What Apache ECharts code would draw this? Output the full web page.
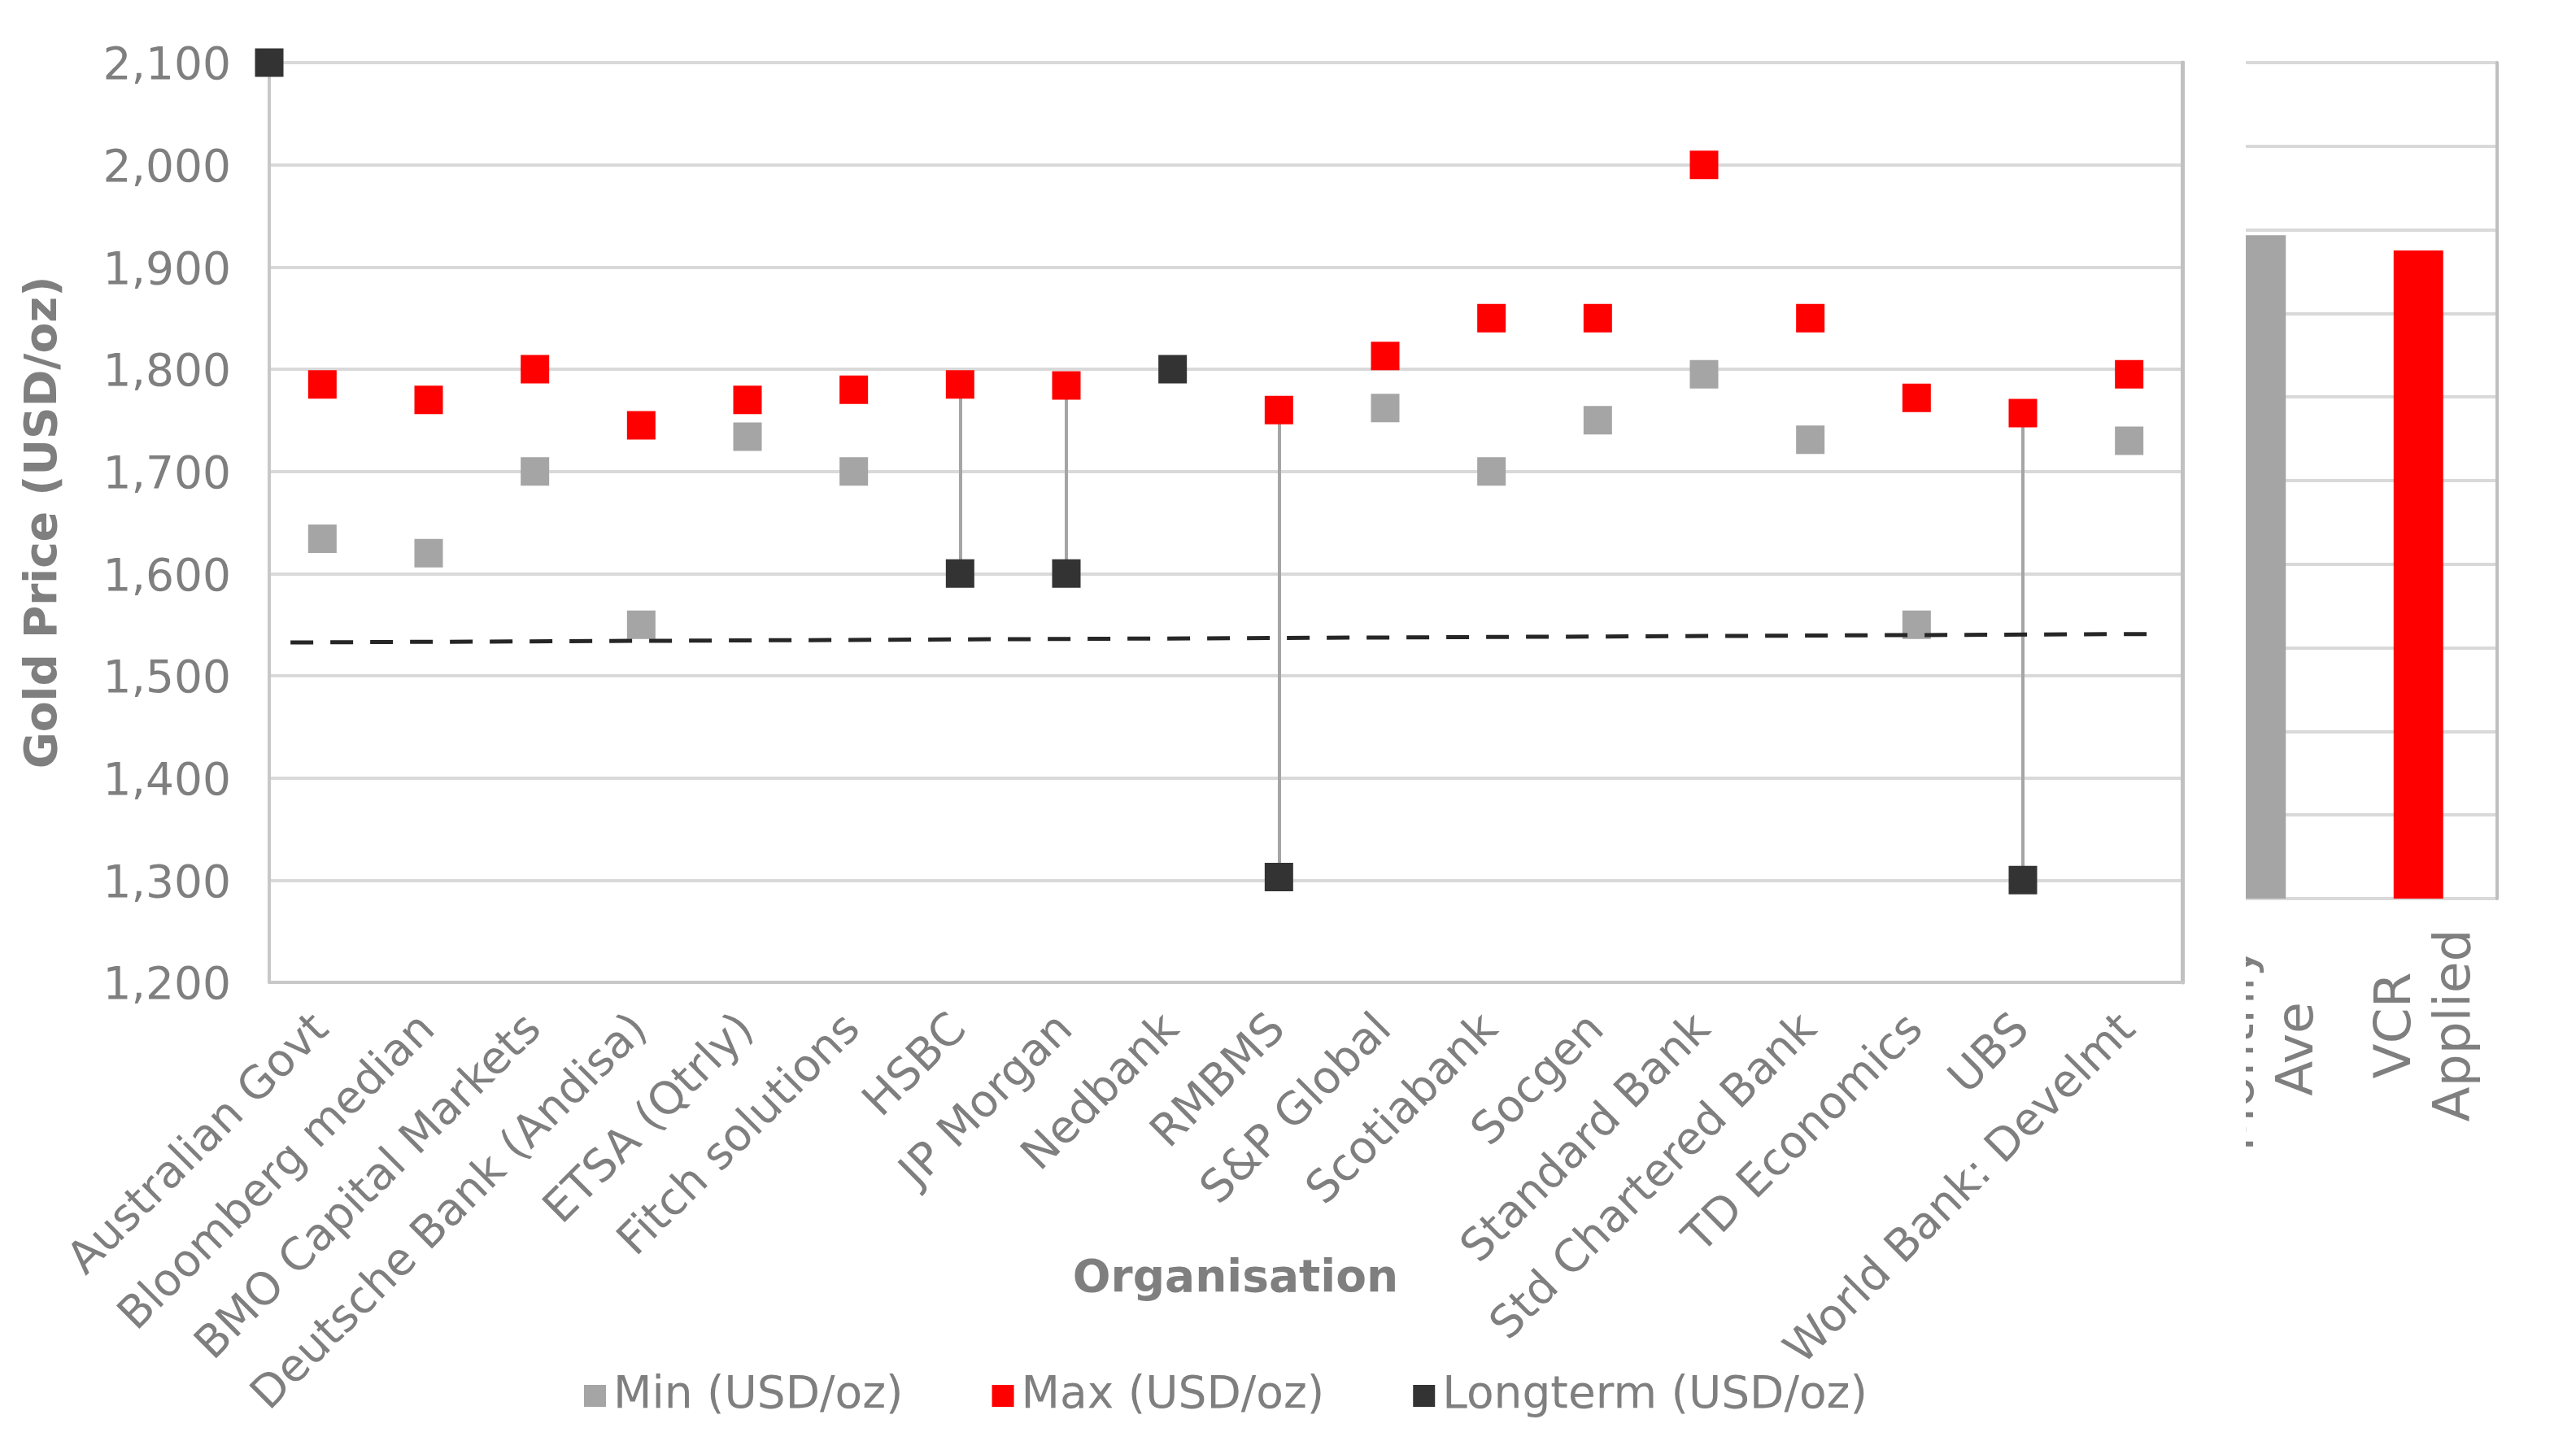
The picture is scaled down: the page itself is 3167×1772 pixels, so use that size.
<!DOCTYPE html>
<html><head><meta charset="utf-8">
<script src="https://cdn.jsdelivr.net/npm/echarts@6/dist/echarts.min.js"></script>
<style>html,body{margin:0;padding:0;background:#fff;overflow:hidden}#c{width:3167px;height:1772px}</style>
</head><body><div id="c"></div><script>
const categories = ['Australian Govt','Bloomberg median','BMO Capital Markets','Deutsche Bank (Andisa)','ETSA (Qtrly)','Fitch solutions','HSBC','JP Morgan','Nedbank','RMBMS','S&P Global','Scotiabank','Socgen','Standard Bank','Std Chartered Bank','TD Economics','UBS','World Bank: Develmt'];
const minValues = [1634,1620,1700,1550,1734,1700,null,null,null,null,1762,1700,1750,1795,1731,1550,null,1730];
const maxValues = [1785,1770,1800,1745,1770,1780,1785,1784,null,1760,1813,1850,1850,2000,1850,1772,1757,1795];
const longtermValues = [null,null,null,null,null,null,1600,1600,1800,1303,null,null,null,null,null,null,1300,null];
const longtermAxisPoint = [[-0.5, 2100]];
const trendPoints = [[-0.3, 1532.6], [17.24, 1540.9]];
const yTicks = [1200,1300,1400,1500,1600,1700,1800,1900,2000,2100];
const seriesNames = ['Min (USD/oz)','Max (USD/oz)','Longterm (USD/oz)'];
const insetCategories = ['Monthly\nAve','VCR\nApplied'];
const insetValues = [1984, 1938];
const insetTicks = [0,250,500,750,1000,1250,1500,1750,2000,2250,2500];

const FONT = 'DejaVu Sans';
const TXT = '#7f7f7f';
const GRID = '#d9d9d9';

const toCat = a => a.map(v => v == null ? '-' : v);
const longtermData = longtermAxisPoint.concat(
  longtermValues.map((v, i) => v == null ? null : [i, v]).filter(d => d));
const connectors = [];
longtermValues.forEach((v, i) => {
  if (v != null && maxValues[i] != null) connectors.push({coords: [[i, maxValues[i]], [i, v]]});
});

const chart = echarts.init(document.getElementById('c'), null, {renderer: 'canvas'});
chart.setOption({
  animation: false,
  backgroundColor: '#fff',
  textStyle: {fontFamily: FONT},
  grid: [
    {left: 331, right: 3167 - 2683, top: 77, bottom: 1772 - 1208, containLabel: false, outerBoundsMode: 'none'},
    {left: 2683, right: 3167 - 3070, top: 77, bottom: 1772 - 1105, containLabel: false, outerBoundsMode: 'none'}
  ],
  legend: {
    data: seriesNames, left: 713, top: 1684, icon: 'rect',
    itemWidth: 27, itemHeight: 27, itemGap: 109,
    textStyle: {fontSize: 55, color: TXT, fontFamily: FONT, padding: [0, 0, 0, 4]}
  },
  xAxis: [
    {type: 'category', gridIndex: 0, data: categories,
     axisLine: {onZero: false, lineStyle: {color: '#c8c8c8', width: 4}},
     axisTick: {inside: true, length: 12, lineStyle: {color: '#c8c8c8', width: 3}},
     axisLabel: {rotate: 45, margin: 50, fontSize: 55, color: TXT, interval: 0, fontFamily: FONT,
       padding: [22, 0, 0, 0]},
     name: 'Organisation', nameLocation: 'middle', nameGap: 338, nameMoveOverlap: false,
     nameTextStyle: {fontSize: 55, fontWeight: 'bold', color: TXT, fontFamily: FONT, padding: [0, 0, 0, 24]}},
    {type: 'value', gridIndex: 0, min: -0.5, max: 17.5, show: false},
    {type: 'category', gridIndex: 1, data: insetCategories,
     axisLine: {show: false}, axisTick: {show: false},
     axisLabel: {rotate: 90, align: 'center', verticalAlign: 'middle', margin: 156, interval: 0,
       padding: [20, 0, 0, 0],
       formatter: (v, i) => v.split('\n').map(s => (i === 0 ? '{a|' : '{b|') + s + '}').join('\n'),
       rich: {
         a: {fontSize: 63, lineHeight: 73, color: TXT, fontFamily: FONT, padding: [0, 58, 0, 0]},
         b: {fontSize: 63, lineHeight: 73, color: TXT, fontFamily: FONT}
       }}}
  ],
  yAxis: [
    {type: 'value', gridIndex: 0, min: yTicks[0], max: yTicks[yTicks.length - 1], interval: yTicks[1] - yTicks[0],
     axisLine: {show: true, onZero: false, lineStyle: {color: '#c8c8c8', width: 4}},
     axisTick: {show: false},
     axisLabel: {fontSize: 55, color: TXT, margin: 47, fontFamily: FONT, verticalAlign: 'top', lineHeight: 12,
       formatter: v => v.toLocaleString('en-US')},
     splitLine: {lineStyle: {color: GRID, width: 4}},
     name: 'Gold Price (USD/oz)', nameLocation: 'middle', nameGap: 249, nameMoveOverlap: false,
     nameTextStyle: {fontSize: 55, fontWeight: 'bold', color: TXT, fontFamily: FONT}},
    {type: 'value', gridIndex: 0, position: 'right', min: yTicks[0], max: yTicks[yTicks.length - 1],
     axisLine: {show: true, onZero: false, lineStyle: {color: '#c0c0c0', width: 5}},
     axisTick: {show: false}, axisLabel: {show: false}, splitLine: {show: false}},
    {type: 'value', gridIndex: 1, position: 'right', min: insetTicks[0], max: insetTicks[insetTicks.length - 1],
     interval: insetTicks[1] - insetTicks[0],
     axisLine: {show: true, onZero: false, lineStyle: {color: '#bfbfbf', width: 4}},
     axisTick: {show: false}, axisLabel: {show: false},
     splitLine: {lineStyle: {color: GRID, width: 4}}}
  ],
  series: [
    {type: 'lines', coordinateSystem: 'cartesian2d', xAxisIndex: 1, yAxisIndex: 0, z: 1, silent: true,
     data: connectors, lineStyle: {color: '#a5a5a5', width: 4, opacity: 1}},
    {name: seriesNames[0], type: 'scatter', xAxisIndex: 0, yAxisIndex: 0, data: toCat(minValues),
     symbol: 'rect', symbolSize: 35, itemStyle: {color: '#a5a5a5', opacity: 1}, z: 3},
    {name: seriesNames[1], type: 'scatter', xAxisIndex: 0, yAxisIndex: 0, data: toCat(maxValues),
     symbol: 'rect', symbolSize: 35, itemStyle: {color: '#ff0000', opacity: 1}, z: 3},
    {name: seriesNames[2], type: 'scatter', xAxisIndex: 1, yAxisIndex: 0, data: longtermData, clip: false,
     symbol: 'rect', symbolSize: 35, itemStyle: {color: '#333333', opacity: 1}, z: 3},
    {type: 'line', xAxisIndex: 1, yAxisIndex: 0, data: trendPoints, symbol: 'none', z: 4, silent: true,
     lineStyle: {color: '#262626', width: 5, type: [28, 21]}},
    {type: 'bar', xAxisIndex: 2, yAxisIndex: 2, barWidth: '31.5%',
     data: insetValues.map((v, i) => ({value: v, itemStyle: {color: i === 0 ? '#a5a5a5' : '#ff0000'}}))}
  ],
  graphic: [
    {type: 'rect', z: 100, silent: true, shape: {x: 2686, y: 0, width: 75, height: 1772},
     style: {fill: '#ffffff'}}
  ]
});
</script></body></html>
